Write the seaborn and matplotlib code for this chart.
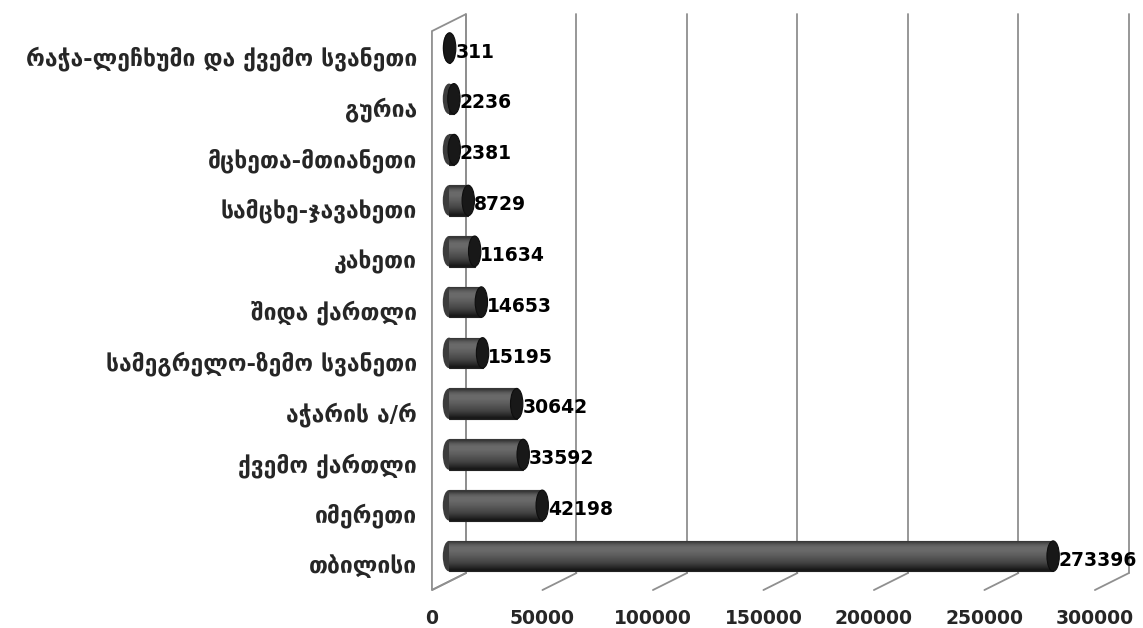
import numpy as np
import pandas as pd
import matplotlib
matplotlib.use("Agg")
import matplotlib.pyplot as plt
import seaborn as sns
from matplotlib import transforms
from matplotlib.patches import Ellipse, Polygon

# regions, top to bottom as shown
regions = [
    "რაჭა-ლეჩხუმი და ქვემო სვანეთი",
    "გურია",
    "მცხეთა-მთიანეთი",
    "სამცხე-ჯავახეთი",
    "კახეთი",
    "შიდა ქართლი",
    "სამეგრელო-ზემო სვანეთი",
    "აჭარის ა/რ",
    "ქვემო ქართლი",
    "იმერეთი",
    "თბილისი",
]
values = [311, 2236, 2381, 8729, 11634, 14653, 15195, 30642, 33592, 42198, 273396]
x_ticks = [0, 50000, 100000, 150000, 200000, 250000, 300000]

sns.set_style("white")
plt.rcParams["font.family"] = ["DejaVu Sans"]

fig = plt.figure(figsize=(11.43, 6.28), dpi=100)
ax = fig.add_axes([0.3928, 0.074, 0.580, 0.890])

df = pd.DataFrame({"region": regions, "count": values})
sns.barplot(data=df, x="count", y="region", orient="h", color="#4a4a4a",
            saturation=1, width=0.6, edgecolor="#222222", linewidth=0.8,
            ax=ax, zorder=3)

ax.set_xlim(0, 300000)
ax.set_ylim(len(regions) - 0.5, -0.5)

# cylinder shading: vertical gray gradient clipped to each bar
shade = np.array([0.22, 0.36, 0.42, 0.41, 0.38, 0.34, 0.30, 0.25, 0.18, 0.10])[:, None]
for bar in list(ax.patches):
    x0, y0 = bar.get_x(), bar.get_y()
    w, h = bar.get_width(), bar.get_height()
    im = ax.imshow(shade, cmap="gray", vmin=0, vmax=1, aspect="auto",
                   interpolation="bilinear", extent=(x0, x0 + w, y0 + h, y0),
                   zorder=3.5)
    im.set_clip_path(bar)

ax.set_xlim(0, 300000)
ax.set_ylim(len(regions) - 0.5, -0.5)

# end caps
cap_w = 5600
for i, v in enumerate(values):
    ax.add_patch(Ellipse((0, i), cap_w, 0.6, facecolor="#3c3c3c",
                         edgecolor="none", zorder=2, clip_on=False))
    ax.add_patch(Ellipse((v, i), cap_w, 0.6, facecolor="#181818",
                         edgecolor="#0e0e0e", lw=0.8, zorder=5, clip_on=False))
    ax.annotate(f"{v}", xy=(v, i), xytext=(4, -3), textcoords="offset points",
                ha="left", va="center", fontsize=13.5, fontweight="bold",
                color="black", zorder=6)

# pseudo 3D walls
dx = 7700
dy = 0.0152
xt = ax.get_xaxis_transform()
grid_col = "#8f8f8f"
for t in x_ticks:
    ax.plot([t + dx, t + dx], [dy, 1 + dy], transform=xt, color=grid_col,
            lw=1.3, clip_on=False, zorder=1)
    ax.plot([t - dx, t + dx], [-dy, dy], transform=xt, color=grid_col,
            lw=1.3, clip_on=False, zorder=1)
    ax.text(t - dx, -0.066, f"{t}", transform=xt, ha="center",
            va="center", fontsize=13.5, fontweight="bold")

ax.add_patch(Polygon([(-dx, -dy), (-dx, 1 - dy), (dx, 1 + dy), (dx, dy)],
                     closed=True, transform=xt, fill=False, edgecolor=grid_col,
                     lw=1.3, clip_on=False, zorder=1))

for s in ax.spines.values():
    s.set_visible(False)
ax.set_xticks([])
ax.set_xlabel("")
ax.set_ylabel("")
ax.tick_params(axis="y", length=0, pad=23, labelsize=16.5)
offset = transforms.ScaledTranslation(0, -0.08, fig.dpi_scale_trans)
for lab in ax.get_yticklabels():
    lab.set_fontweight("bold")
    lab.set_transform(lab.get_transform() + offset)

fig.savefig("out.png", dpi=100)
